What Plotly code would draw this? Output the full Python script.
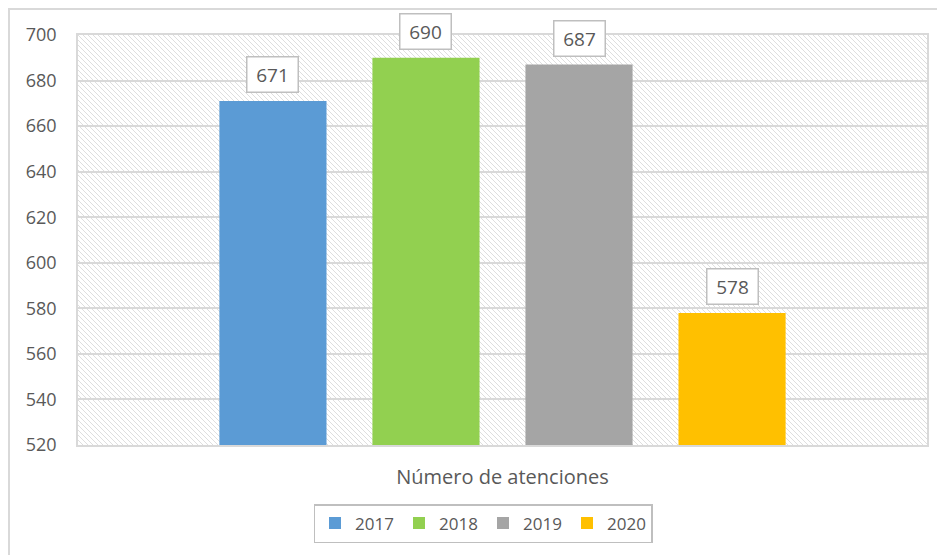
import base64
import plotly.graph_objects as go

category = ["Número de atenciones"]
years = ["2017", "2018", "2019", "2020"]
values = [671, 690, 687, 578]
colors = ["#5B9BD5", "#92D050", "#A5A5A5", "#FFC000"]
y_ticks = [520, 540, 560, 580, 600, 620, 640, 660, 680, 700]

# page body adds an 8px offset, so the figure is 8px smaller than the window
W, H = 937, 547
L, R, T, B = 70, 18, 27, 110
PW, PH = W - L - R, H - T - B

# hatch background for plot area
svg = f'''<svg xmlns="http://www.w3.org/2000/svg" width="{PW}" height="{PH}" viewBox="0 0 {PW} {PH}" preserveAspectRatio="none">
<defs><pattern id="h" patternUnits="userSpaceOnUse" width="5" height="5">
<path d="M-1,-1 L6,6 M-1,4 L1,6 M4,-1 L6,1" stroke="#d6d6d6" stroke-width="0.8"/></pattern></defs>
<rect width="{PW}" height="{PH}" fill="white"/><rect width="{PW}" height="{PH}" fill="url(#h)"/></svg>'''
src = "data:image/svg+xml;base64," + base64.b64encode(svg.encode()).decode()

fig = go.Figure()
for yr, v, c in zip(years, values, colors):
    fig.add_trace(go.Bar(x=category, y=[v], name=yr, marker=dict(color=c, line=dict(width=0))))

bargap = 0.279
bargroupgap = 0.30
group_px = PW * (1 - bargap)
slot = group_px / len(years)
for i, v in enumerate(values):
    fig.add_annotation(x=category[0], y=v, text=str(v), showarrow=False,
                       xshift=(i - (len(years) - 1) / 2) * slot, yshift=8, yanchor="bottom",
                       font=dict(size=19, color="#595959", family="Open Sans"),
                       bgcolor="white", bordercolor="#bfbfbf", borderwidth=1.5, borderpad=5,
                       width=40, height=24)

# outer chart border
fig.add_shape(type="rect", xref="paper", yref="paper",
              x0=(1 - L) / PW, x1=(W + 10 - L) / PW, y0=-(H + 10 - T - PH) / PH, y1=(PH + T - 1) / PH,
              line=dict(color="#d9d9d9", width=2), fillcolor="rgba(0,0,0,0)", layer="below")

fig.add_layout_image(source=src, xref="paper", yref="paper", x=0, y=1, sizex=1, sizey=1,
                     xanchor="left", yanchor="top", sizing="stretch", layer="below")

fig.update_layout(
    width=W, height=H,
    margin=dict(l=L, r=R, t=T, b=B, autoexpand=False),
    paper_bgcolor="white", plot_bgcolor="rgba(0,0,0,0)",
    barmode="group", bargap=bargap, bargroupgap=bargroupgap,
    font=dict(family="Open Sans", color="#595959", size=17),
    showlegend=True,
    legend=dict(orientation="h", x=(475 - L) / PW, xanchor="center", y=(PH - (496 - T)) / PH, yanchor="top",
                bordercolor="#bfbfbf", borderwidth=1.5, font=dict(size=17, color="#595959"),
                itemwidth=30, entrywidth=39, traceorder="normal"),
    xaxis=dict(showgrid=False, showline=True, linecolor="#d9d9d9", linewidth=1.5, mirror=True,
               ticks="", tickfont=dict(size=20, color="#595959"), ticklabelstandoff=13),
    yaxis=dict(range=[520, 700], tickvals=y_ticks, showgrid=True, gridcolor="#d9d9d9", gridwidth=1.5,
               showline=True, linecolor="#d9d9d9", linewidth=1.5, mirror=True, zeroline=False,
               ticks="", tickfont=dict(size=18, color="#595959"), ticklabelstandoff=16),
)

fig.write_html("out.html")
